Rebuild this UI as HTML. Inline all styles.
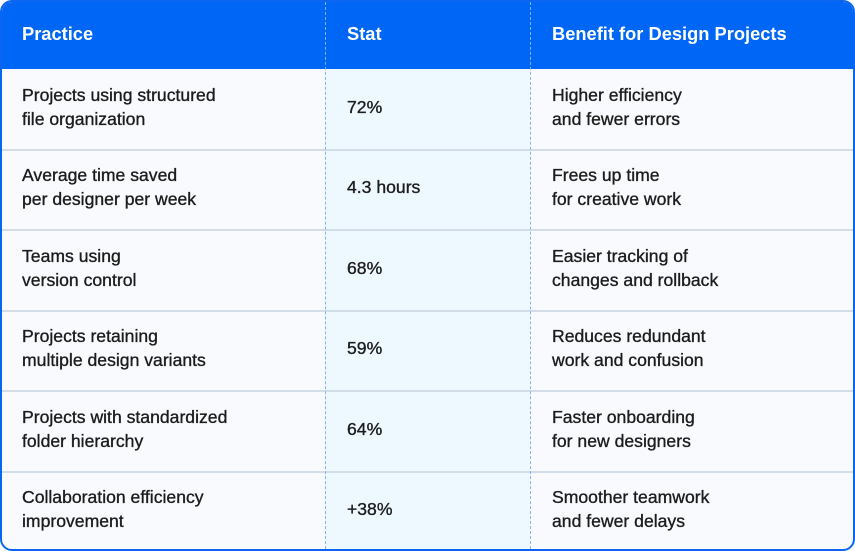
<!DOCTYPE html>
<html><head><style>
html,body{margin:0;padding:0;background:#fff;}
.t{position:absolute;left:0;top:0;width:851px;height:547px;border:2px solid #0a66f0;border-radius:12px;overflow:hidden;background:#f8fafd;font-family:"Liberation Sans",sans-serif;font-size:17.6px;color:#1c1c1c;-webkit-text-stroke:0.35px #1c1c1c;}
.h{position:absolute;left:0;top:0;width:851px;height:67px;background:#0066f5;color:#fff;font-weight:bold;font-size:18.3px;-webkit-text-stroke:0;}
.h div{position:absolute;top:21px;}
.mid{position:absolute;left:323px;top:67px;width:205px;height:480px;background:#eef8ff;}
.vl{position:absolute;top:0;height:547px;border-left:1px dashed #86b3f0;}
.row{position:absolute;left:0;width:851px;height:80px;border-bottom:2px solid #d3dde8;}
.c{position:absolute;line-height:24px;}
.a{left:20px}.b{left:345px}.d{left:550px}
</style></head><body>
<div class="t">
<div class="h"><div style="left:20px">Practice</div><div style="left:345px">Stat</div><div style="left:550px">Benefit for Design Projects</div></div>
<div class="mid"></div>
<div class="row" style="top:67px"><div class="c a" style="top:14px">Projects using structured<br>file organization</div><div class="c b" style="top:26px">72%</div><div class="c d" style="top:14px">Higher efficiency<br>and fewer errors</div></div>
<div class="row" style="top:147px"><div class="c a" style="top:14px">Average time saved<br>per designer per week</div><div class="c b" style="top:26px">4.3 hours</div><div class="c d" style="top:14px">Frees up time<br>for creative work</div></div>
<div class="row" style="top:228px"><div class="c a" style="top:14px">Teams using<br>version control</div><div class="c b" style="top:26px">68%</div><div class="c d" style="top:14px">Easier tracking of<br>changes and rollback</div></div>
<div class="row" style="top:308px"><div class="c a" style="top:14px">Projects retaining<br>multiple design variants</div><div class="c b" style="top:26px">59%</div><div class="c d" style="top:14px">Reduces redundant<br>work and confusion</div></div>
<div class="row" style="top:389px"><div class="c a" style="top:14px">Projects with standardized<br>folder hierarchy</div><div class="c b" style="top:26px">64%</div><div class="c d" style="top:14px">Faster onboarding<br>for new designers</div></div>
<div class="row" style="top:469px;border-bottom:none"><div class="c a" style="top:14px">Collaboration efficiency<br>improvement</div><div class="c b" style="top:26px">+38%</div><div class="c d" style="top:14px">Smoother teamwork<br>and fewer delays</div></div>
<div class="vl" style="left:323px"></div>
<div class="vl" style="left:528px"></div>
</div>
</body></html>
